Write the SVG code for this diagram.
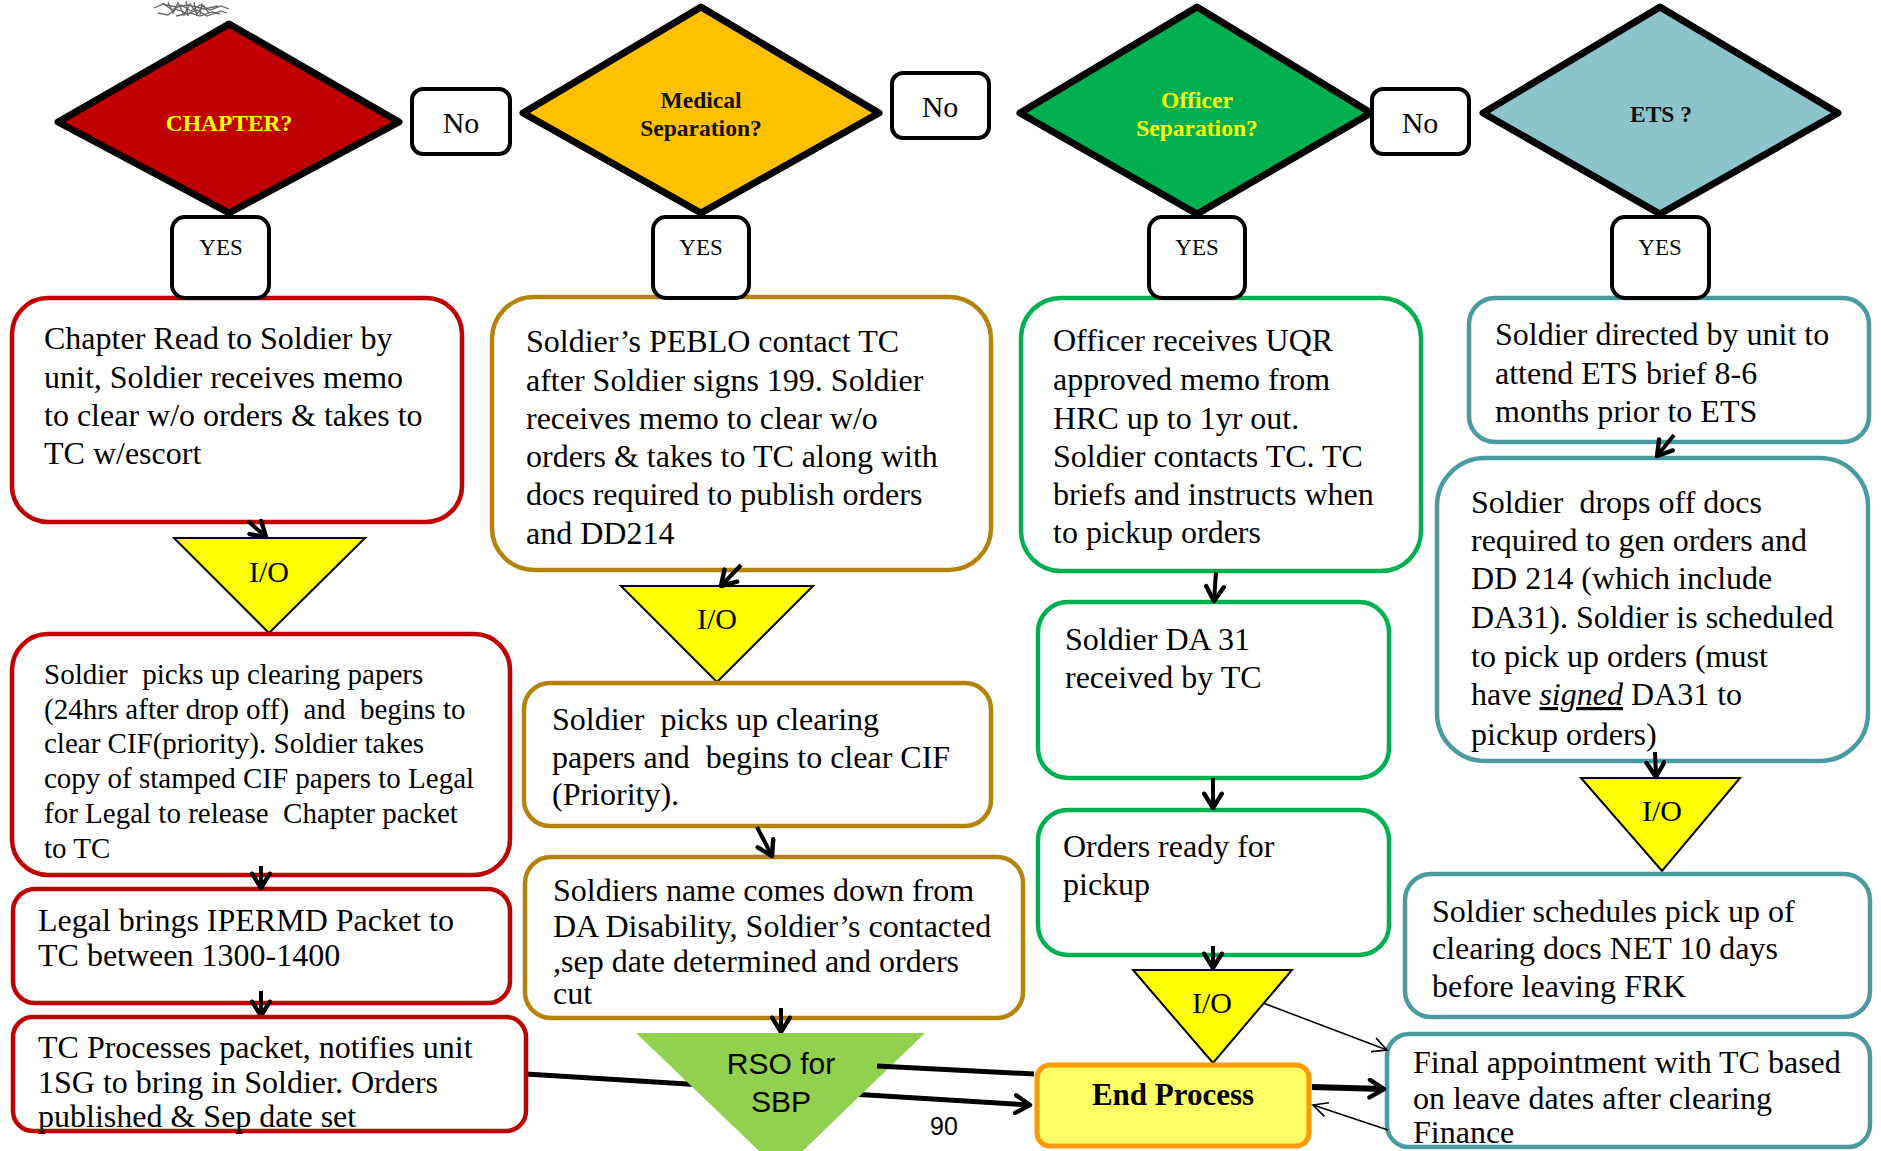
<svg xmlns="http://www.w3.org/2000/svg" width="1881" height="1151" viewBox="0 0 1881 1151">
  <style>
    .t { font-family: "Liberation Serif", "Times New Roman", serif; font-size: 32px; fill: #000; white-space: pre; }
    .s29 { font-size: 29px; }
    .dl { font-family: "Liberation Serif", "Times New Roman", serif; font-size: 23.5px; font-weight: bold; text-anchor: middle; }
    .yn { font-family: "Liberation Serif", "Times New Roman", serif; text-anchor: middle; fill: #000; }
    .io { font-family: "Liberation Serif", "Times New Roman", serif; font-size: 30px; text-anchor: middle; fill: #000; }
    .sans { font-family: "Liberation Sans", Arial, sans-serif; fill: #000; }
    .dia { stroke: #000; stroke-width: 7; stroke-linejoin: round; }
    .lbl { fill: #fff; stroke: #000; stroke-width: 4; }
    .red { fill: #fff; stroke: #C00000; stroke-width: 4.5; }
    .gold { fill: #fff; stroke: #B3830A; stroke-width: 4.5; }
    .grn { fill: #fff; stroke: #00B050; stroke-width: 4.5; }
    .teal { fill: #fff; stroke: #4A9AA1; stroke-width: 4.5; }
    .tri { fill: #FFFF00; stroke: #000; stroke-width: 2; stroke-linejoin: miter; }
    .arr { fill: none; stroke: #000; stroke-width: 4; marker-end: url(#head); }
    .thin { fill: none; stroke: #000; stroke-width: 1.6; marker-end: url(#thinhead); }
  </style>
  <defs>
    <marker id="head" markerUnits="userSpaceOnUse" markerWidth="22" markerHeight="22" viewBox="0 0 20 20" refX="17" refY="10" orient="auto">
      <path d="M4,2 L17,10 L4,18" fill="none" stroke="#000" stroke-width="4" stroke-linecap="round" stroke-linejoin="round"/>
    </marker>
    <marker id="thinhead" markerUnits="userSpaceOnUse" markerWidth="18" markerHeight="18" viewBox="0 0 20 20" refX="18" refY="10" orient="auto">
      <path d="M2,2 L18,10 L2,18" fill="none" stroke="#000" stroke-width="1.8"/>
    </marker>
    <filter id="soft" x="-20%" y="-50%" width="140%" height="200%">
      <feGaussianBlur stdDeviation="0.7"/>
    </filter>
  </defs>

  <rect width="1881" height="1151" fill="#fff"/>

  <!-- small grey smudge at the top edge -->
  <g id="smudge" stroke="#333" stroke-width="1.3" fill="none" opacity="0.75" filter="url(#soft)">
    <path d="M154,8 l10,-4 l8,6 l9,-5 l10,6 l9,-6 l10,5 l11,-4 l8,3"/>
    <path d="M158,13 l10,2 l8,-6 l12,5 l9,-4 l10,6 l14,-5 l6,2"/>
    <path d="M168,2 l5,11 l5,-10 l6,12 l6,-11 l7,10 l6,-9 l6,8"/>
    <path d="M176,16 l14,-3 l10,3 l12,-4 l8,2"/>
    <path d="M162,4 l14,3 l12,-2 l16,4 l14,-3"/>
    <path d="M186,1 l2,15 M194,2 l3,14 M202,3 l-2,12"/>
  </g>

  <!-- decision diamonds -->
  <g id="chapter">
    <polygon class="dia" points="229,24 399,122 229,213 58,122" fill="#C00000"/>
    <text class="dl" x="229" y="131" fill="#FFFF00">CHAPTER?</text>
  </g>
  <g id="medical">
    <polygon class="dia" points="701,7 879,113 701,213 523,113" fill="#FFC000"/>
    <text class="dl" x="701" y="108" fill="#111">Medical</text>
    <text class="dl" x="701" y="136" fill="#111">Separation?</text>
  </g>
  <g id="officer">
    <polygon class="dia" points="1197,7 1371,113 1197,214 1020,113" fill="#00B050"/>
    <text class="dl" x="1197" y="108" fill="#FFFF00">Officer</text>
    <text class="dl" x="1197" y="136" fill="#FFFF00">Separation?</text>
  </g>
  <g id="ets">
    <polygon class="dia" points="1660,7 1838,113 1660,214 1483,113" fill="#8CC4CC"/>
    <text class="dl" x="1661" y="122" fill="#111">ETS ?</text>
  </g>

  <!-- "No" labels -->
  <g id="no-1"><rect class="lbl" x="412" y="89" width="98" height="65" rx="11"/><text class="yn" x="461" y="133" font-size="30">No</text></g>
  <g id="no-2"><rect class="lbl" x="892" y="73" width="97" height="65" rx="11"/><text class="yn" x="940" y="117" font-size="30">No</text></g>
  <g id="no-3"><rect class="lbl" x="1372" y="89" width="97" height="65" rx="11"/><text class="yn" x="1420" y="133" font-size="30">No</text></g>

  <!-- chapter column -->
  <g id="ch-1">
    <rect class="red" x="12" y="298" width="450" height="224" rx="36"/>
    <text class="t" x="44" y="349">Chapter Read to Soldier by</text>
    <text class="t" x="44" y="388">unit, Soldier receives memo</text>
    <text class="t" x="44" y="426">to clear w/o orders &amp; takes to</text>
    <text class="t" x="44" y="464">TC w/escort</text>
  </g>
  <g id="ch-io">
    <polygon class="tri" points="174,538 365,538 269,633"/>
    <text class="io" x="269" y="582">I/O</text>
  </g>
  <g id="ch-2">
    <rect class="red" x="12" y="634" width="498" height="241" rx="36"/>
    <text class="t s29" x="44" y="684">Soldier  picks up clearing papers</text>
    <text class="t s29" x="44" y="719">(24hrs after drop off)  and  begins to</text>
    <text class="t s29" x="44" y="753">clear CIF(priority). Soldier takes</text>
    <text class="t s29" x="44" y="788">copy of stamped CIF papers to Legal</text>
    <text class="t s29" x="44" y="823">for Legal to release  Chapter packet</text>
    <text class="t s29" x="44" y="858">to TC</text>
  </g>
  <g id="ch-3">
    <rect class="red" x="13" y="889" width="497" height="114" rx="22"/>
    <text class="t" x="38" y="931">Legal brings IPERMD Packet to</text>
    <text class="t" x="38" y="966">TC between 1300-1400</text>
  </g>

  <!-- medical column -->
  <g id="md-1">
    <rect class="gold" x="492" y="297" width="499" height="273" rx="42"/>
    <text class="t" x="526" y="352">Soldier’s PEBLO contact TC</text>
    <text class="t" x="526" y="391">after Soldier signs 199. Soldier</text>
    <text class="t" x="526" y="429">receives memo to clear w/o</text>
    <text class="t" x="526" y="467">orders &amp; takes to TC along with</text>
    <text class="t" x="526" y="505">docs required to publish orders</text>
    <text class="t" x="526" y="544">and DD214</text>
  </g>
  <g id="md-io">
    <polygon class="tri" points="621,586 813,586 717,682"/>
    <text class="io" x="717" y="629">I/O</text>
  </g>
  <g id="md-2">
    <rect class="gold" x="524" y="683" width="467" height="143" rx="26"/>
    <text class="t" x="552" y="730">Soldier  picks up clearing</text>
    <text class="t" x="552" y="768">papers and  begins to clear CIF</text>
    <text class="t" x="552" y="805">(Priority).</text>
  </g>
  <g id="md-3">
    <rect class="gold" x="525" y="857" width="498" height="161" rx="26"/>
    <text class="t" x="553" y="901">Soldiers name comes down from</text>
    <text class="t" x="553" y="937">DA Disability, Soldier’s contacted</text>
    <text class="t" x="553" y="972">,sep date determined and orders</text>
    <text class="t" x="553" y="1004">cut</text>
  </g>

  <!-- officer column -->
  <g id="of-1">
    <rect class="grn" x="1021" y="298" width="400" height="273" rx="40"/>
    <text class="t" x="1053" y="351">Officer receives UQR</text>
    <text class="t" x="1053" y="390">approved memo from</text>
    <text class="t" x="1053" y="429">HRC up to 1yr out.</text>
    <text class="t" x="1053" y="467">Soldier contacts TC. TC</text>
    <text class="t" x="1053" y="505">briefs and instructs when</text>
    <text class="t" x="1053" y="543">to pickup orders</text>
  </g>
  <g id="of-2">
    <rect class="grn" x="1038" y="602" width="351" height="176" rx="30"/>
    <text class="t" x="1065" y="650">Soldier DA 31</text>
    <text class="t" x="1065" y="688">received by TC</text>
  </g>
  <g id="of-3">
    <rect class="grn" x="1038" y="810" width="351" height="145" rx="30"/>
    <text class="t" x="1063" y="857">Orders ready for</text>
    <text class="t" x="1063" y="895">pickup</text>
  </g>
  <g id="of-io">
    <polygon class="tri" points="1133,970 1292,970 1213,1063"/>
    <text class="io" x="1212" y="1013">I/O</text>
  </g>

  <!-- ETS column -->
  <g id="et-1">
    <rect class="teal" x="1469" y="298" width="400" height="144" rx="26"/>
    <text class="t" x="1495" y="345">Soldier directed by unit to</text>
    <text class="t" x="1495" y="384">attend ETS brief 8-6</text>
    <text class="t" x="1495" y="422">months prior to ETS</text>
  </g>
  <g id="et-2">
    <rect class="teal" x="1437" y="458" width="431" height="303" rx="48"/>
    <text class="t" x="1471" y="513">Soldier  drops off docs</text>
    <text class="t" x="1471" y="551">required to gen orders and</text>
    <text class="t" x="1471" y="589">DD 214 (which include</text>
    <text class="t" x="1471" y="628">DA31). Soldier is scheduled</text>
    <text class="t" x="1471" y="667">to pick up orders (must</text>
    <text class="t" x="1471" y="705">have <tspan font-style="italic" text-decoration="underline">signed</tspan> DA31 to</text>
    <text class="t" x="1471" y="745">pickup orders)</text>
  </g>
  <g id="et-io">
    <polygon class="tri" points="1581,778 1740,778 1662,871"/>
    <text class="io" x="1662" y="821">I/O</text>
  </g>
  <g id="et-3">
    <rect class="teal" x="1405" y="874" width="465" height="143" rx="26"/>
    <text class="t" x="1432" y="922">Soldier schedules pick up of</text>
    <text class="t" x="1432" y="959">clearing docs NET 10 days</text>
    <text class="t" x="1432" y="997">before leaving FRK</text>
  </g>

  <!-- connectors -->
  <g id="connectors">
    <path class="arr" d="M248,521 L266,537"/>
    <path class="arr" d="M261,866 L261,888"/>
    <path class="arr" d="M261,991 L261,1016"/>
    <path class="arr" d="M741,565 L721,586"/>
    <path class="arr" d="M757,827 L772,856"/>
    <path class="arr" d="M781,1008 L781,1032"/>
    <path class="arr" d="M1216,572 L1214,601"/>
    <path class="arr" d="M1213,778 L1213,808"/>
    <path class="arr" d="M1213,946 L1213,968"/>
    <path class="arr" d="M1674,435 L1657,456"/>
    <path class="arr" d="M1655,752 L1656,777"/>
    <path d="M526,1074 L1030,1105" fill="none" stroke="#000" stroke-width="5" marker-end="url(#head)"/>
  </g>

  <!-- RSO for SBP (drawn over the line it crosses) -->
  <g id="rso">
    <polygon points="636,1033 925,1033 781,1172" fill="#92D050"/>
    <text class="sans" x="781" y="1074" font-size="30" text-anchor="middle">RSO for</text>
    <text class="sans" x="781" y="1112" font-size="30" text-anchor="middle">SBP</text>
  </g>
  <text id="page-no" class="sans" x="944" y="1135" font-size="25" text-anchor="middle">90</text>

  <!-- bottom row -->
  <g id="tc-process">
    <rect class="red" x="13" y="1017" width="513" height="114" rx="20"/>
    <text class="t" x="38" y="1058">TC Processes packet, notifies unit</text>
    <text class="t" x="38" y="1093">1SG to bring in Soldier. Orders</text>
    <text class="t" x="38" y="1127">published &amp; Sep date set</text>
  </g>
  <g id="end-process">
    <rect x="1037" y="1065" width="272" height="81" rx="13" fill="#FFFF66" stroke="#FF9900" stroke-width="5"/>
    <text class="yn" x="1173" y="1105" font-size="31" font-weight="bold">End Process</text>
  </g>
  <g id="final">
    <rect class="teal" x="1387" y="1034" width="483" height="113" rx="22"/>
    <text class="t" x="1413" y="1073">Final appointment with TC based</text>
    <text class="t" x="1413" y="1109">on leave dates after clearing</text>
    <text class="t" x="1413" y="1143">Finance</text>
  </g>

  <g id="connectors-2">
    <path d="M877,1066 L1034,1074" fill="none" stroke="#000" stroke-width="5"/>
    <path class="thin" d="M1263,1003 L1387,1050"/>
    <path d="M1312,1087 L1384,1089" fill="none" stroke="#000" stroke-width="6" marker-end="url(#head)"/>
    <path class="thin" d="M1388,1130 L1313,1105"/>
  </g>

  <!-- YES labels -->
  <g id="yes-1"><rect class="lbl" x="172" y="217" width="97" height="81" rx="13"/><text class="yn" x="221" y="255" font-size="23">YES</text></g>
  <g id="yes-2"><rect class="lbl" x="653" y="217" width="96" height="81" rx="13"/><text class="yn" x="701" y="255" font-size="23">YES</text></g>
  <g id="yes-3"><rect class="lbl" x="1149" y="217" width="96" height="81" rx="13"/><text class="yn" x="1197" y="255" font-size="23">YES</text></g>
  <g id="yes-4"><rect class="lbl" x="1612" y="217" width="97" height="81" rx="13"/><text class="yn" x="1660" y="255" font-size="23">YES</text></g>
</svg>
